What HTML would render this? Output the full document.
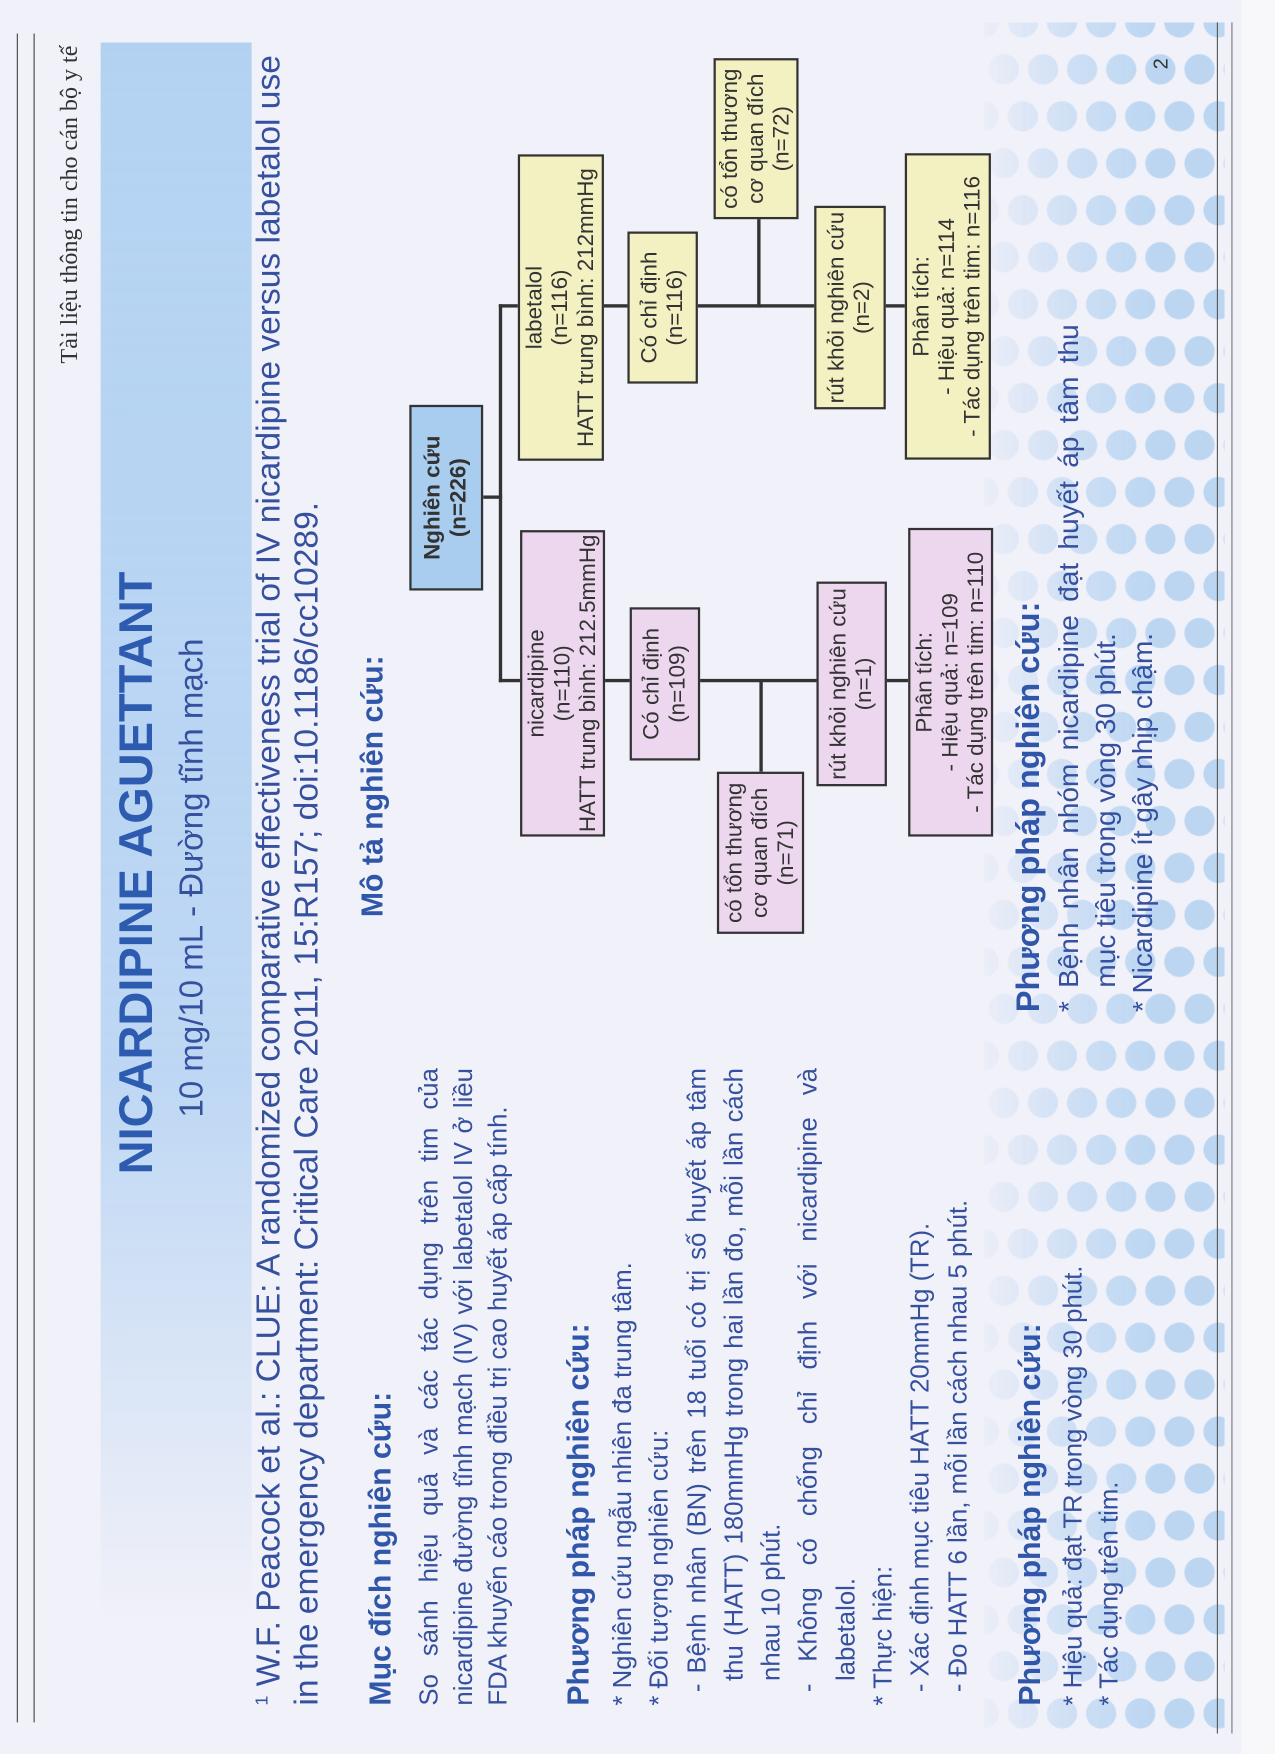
<!DOCTYPE html>
<html><head><meta charset="utf-8">
<style>
html,body{margin:0;padding:0;}
body{width:1275px;height:1754px;overflow:hidden;position:relative;background:#f1f1f9;font-family:"Liberation Sans",sans-serif;}
#wrap{position:absolute;left:0;top:0;width:1140px;height:1568px;transform-origin:0 0;transform:scale(1.11842);}
#rot{position:absolute;left:0;top:1568px;width:1568px;height:1140px;transform-origin:0 0;transform:rotate(-90deg);}
.a{position:absolute;white-space:nowrap;}
.t{color:#34509e;}
.h{color:#2f56a8;font-weight:bold;font-size:27px;}
.box{position:absolute;box-sizing:border-box;border:2px solid #333;display:flex;flex-direction:column;justify-content:center;align-items:center;text-align:center;color:#333;font-size:20px;line-height:23px;}
.y{background:#f3f0c2;}
.p{background:#ecd7ee;}
.b{background:#a9cdef;font-weight:bold;}
.ln{position:absolute;background:#333;}
.j{text-align:justify;text-align-last:justify;white-space:nowrap;}
.bl{position:absolute;color:#34509e;font-size:22px;line-height:33px;}
</style></head><body>
<div id="wrap">
<div style="position:absolute;left:880px;top:20px;width:215px;height:1530px;background:radial-gradient(circle,#b6d3f1 13px,transparent 14px) 0 0/35px 84px,radial-gradient(circle,#b6d3f1 13px,transparent 14px) 17px 42px/35px 84px;-webkit-mask-image:linear-gradient(to right,rgba(0,0,0,0.1),rgba(0,0,0,0.7) 40%,#000 70%);opacity:0.9;"></div>
<div style="position:absolute;left:1110px;top:0;width:40px;height:1568px;background:#f8f8fb;"></div>
<div style="position:absolute;left:15px;top:30px;width:1px;height:1510px;background:#444"></div>
<div style="position:absolute;left:30px;top:30px;width:1px;height:1510px;background:#444"></div>
<div style="position:absolute;left:1088px;top:20px;width:1px;height:1530px;background:#555"></div>
<div style="position:absolute;left:1101px;top:20px;width:1px;height:1530px;background:#777"></div>

<div id="rot">
  <div style="position:absolute;left:120px;top:90px;width:1410px;height:135px;background:linear-gradient(to right,rgba(176,208,242,0),rgba(176,208,242,0.8) 35%,#b3d2f2 100%);"></div>

  <div class="a" style="left:1243px;top:50px;font-family:'Liberation Serif',serif;font-size:21.5px;color:#333;">Tài liệu thông tin cho cán bộ y tế</div>
  <div class="a" style="left:1506px;top:1028px;font-size:18px;color:#333;">2</div>

  <div class="a" style="left:518px;top:98px;width:530px;text-align:center;font-size:42px;font-weight:bold;color:#2c5bb0;">NICARDIPINE AGUETTANT</div>
  <div class="a t" style="left:518px;top:155px;width:530px;text-align:center;font-size:29.5px;">10 mg/10 mL - Đường tĩnh mạch</div>

  <div class="a t" style="left:43px;top:224px;font-size:30px;"><sup style="font-size:16px">1</sup> W.F. Peacock et al.: CLUE: A randomized comparative effectiveness trial of IV nicardipine versus labetalol use</div>
  <div class="a t" style="left:43px;top:258px;font-size:30px;">in the emergency department: Critical Care 2011, 15:R157; doi:10.1186/cc10289.</div>

  <div class="a h" style="left:43px;top:325px;">Mục đích nghiên cứu:</div>
  <div class="bl" style="left:43px;top:368px;width:570px;font-size:23px;line-height:31px;">
    <div class="j">So sánh hiệu quả và các tác dụng trên tim của</div>
    <div class="j">nicardipine đường tĩnh mạch (IV) với labetalol IV ở liều</div>
    <div>FDA khuyến cáo trong điều trị cao huyết áp cấp tính.</div>
  </div>

  <div class="a h" style="left:43px;top:502px;">Phương pháp nghiên cứu:</div>
  <div class="bl" style="left:43px;top:540px;width:570px;font-size:23px;line-height:33.3px;">
    <div>* Nghiên cứu ngẫu nhiên đa trung tâm.</div>
    <div>* Đối tượng nghiên cứu:</div>
    <div class="j" style="padding-left:12px;">- Bệnh nhân (BN) trên 18 tuổi có trị số huyết áp tâm</div>
    <div class="j" style="padding-left:22px;">thu (HATT) 180mmHg trong hai lần đo, mỗi lần cách</div>
    <div style="padding-left:22px;">nhau 10 phút.</div>
    <div class="j" style="padding-left:12px;">- Không có chống chỉ định với nicardipine và</div>
    <div style="padding-left:22px;">labetalol.</div>
    <div>* Thực hiện:</div>
    <div style="padding-left:12px;">- Xác định mục tiêu HATT 20mmHg (TR).</div>
    <div style="padding-left:12px;">- Đo HATT 6 lần, mỗi lần cách nhau 5 phút.</div>
  </div>

  <div class="a h" style="left:43px;top:906px;">Phương pháp nghiên cứu:</div>
  <div class="a t" style="left:43px;top:943px;font-size:23px;line-height:32px;">* Hiệu quả: đạt TR trong vòng 30 phút.<br>* Tác dụng trên tim.</div>

  <div class="a h" style="left:748px;top:318px;">Mô tả nghiên cứu:</div>

  <div class="a h" style="left:663px;top:904px;font-size:29px;">Phương pháp nghiên cứu:</div>
  <div class="bl" style="left:663px;top:940px;width:615px;font-size:25px;line-height:33px;">
    <div class="j">* Bệnh nhân nhóm nicardipine đạt huyết áp tâm thu</div>
    <div style="padding-left:22px;">mục tiêu trong vòng 30 phút.</div>
    <div>* Nicardipine ít gây nhịp chậm.</div>
  </div>

  <div class="ln" style="left:1122px;top:432px;width:3px;height:17px;"></div>
  <div class="ln" style="left:958px;top:446px;width:338px;height:3px;"></div>
  <div class="ln" style="left:958px;top:446px;width:3px;height:20px;"></div>
  <div class="ln" style="left:1293px;top:446px;width:3px;height:20px;"></div>
  <div class="ln" style="left:1293px;top:540px;width:3px;height:270px;"></div>
  <div class="ln" style="left:958px;top:540px;width:3px;height:272px;"></div>
  <div class="ln" style="left:1293px;top:677px;width:80px;height:3px;"></div>
  <div class="ln" style="left:878px;top:679px;width:82px;height:3px;"></div>

  <div class="box b" style="left:1040px;top:366px;width:166px;height:66px;">Nghiên cứu<br>(n=226)</div>
  <div class="box y" style="left:1156px;top:463px;width:274px;height:77px;">labetalol<br>(n=116)<br>HATT trung bình: 212mmHg</div>
  <div class="box p" style="left:820px;top:465px;width:274px;height:76px;">nicardipine<br>(n=110)<br>HATT trung bình: 212.5mmHg</div>
  <div class="box y" style="left:1225px;top:561px;width:136px;height:63px;">Có chỉ định<br>(n=116)</div>
  <div class="box p" style="left:888px;top:563px;width:137px;height:63px;">Có chỉ định<br>(n=109)</div>
  <div class="box y" style="left:1372px;top:638px;width:144px;height:76px;">có tổn thương<br>cơ quan đích<br>(n=72)</div>
  <div class="box p" style="left:733px;top:641px;width:145px;height:78px;">có tổn thương<br>cơ quan đích<br>(n=71)</div>
  <div class="box y" style="left:1202px;top:728px;width:182px;height:64px;">rút khỏi nghiên cứu<br>(n=2)</div>
  <div class="box p" style="left:865px;top:730px;width:183px;height:63px;">rút khỏi nghiên cứu<br>(n=1)</div>
  <div class="box y" style="left:1157px;top:809px;width:274px;height:77px;">Phân tích:<br>- Hiệu quả: n=114<br>- Tác dụng trên tim: n=116</div>
  <div class="box p" style="left:820px;top:812px;width:276px;height:76px;">Phân tích:<br>- Hiệu quả: n=109<br>- Tác dụng trên tim: n=110</div>
</div>
</div>
</body></html>
